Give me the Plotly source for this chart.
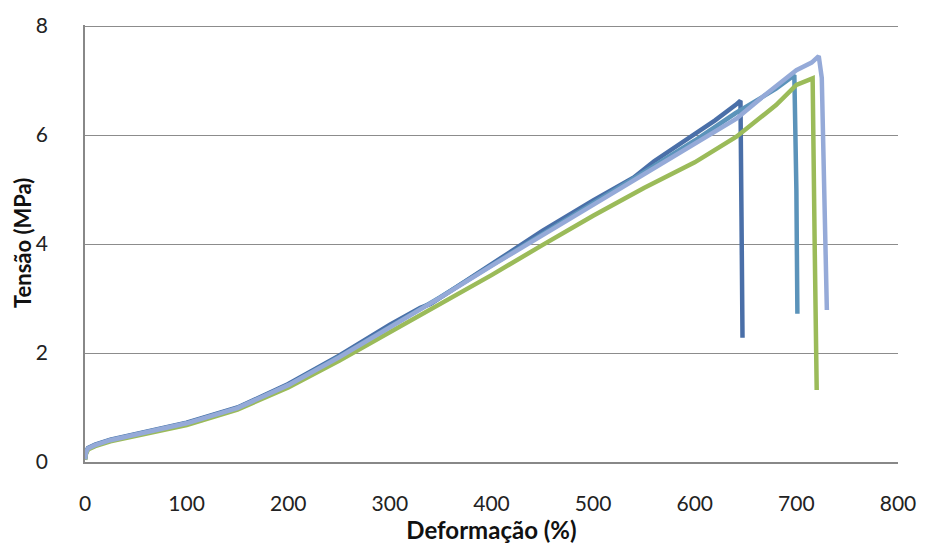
import plotly.graph_objects as go

# Series (strain %, stress MPa)
s1_x = [0, 1, 3, 10, 25, 50, 100, 150, 200, 250, 300, 330, 340, 350, 400, 450, 500, 540, 560, 600, 620, 640, 645, 646, 647]
s1_y = [0.05, 0.18, 0.26, 0.32, 0.41, 0.51, 0.72, 1.00, 1.43, 1.95, 2.52, 2.83, 2.90, 3.02, 3.63, 4.24, 4.80, 5.22, 5.52, 6.02, 6.27, 6.55, 6.63, 4.5, 2.28]

s2_x = [0, 1, 3, 10, 25, 50, 100, 150, 200, 250, 300, 350, 400, 450, 500, 550, 600, 640, 680, 698, 700, 701]
s2_y = [0.05, 0.17, 0.25, 0.31, 0.40, 0.50, 0.71, 0.99, 1.41, 1.93, 2.47, 3.03, 3.61, 4.19, 4.75, 5.32, 5.90, 6.40, 6.85, 7.10, 5.0, 2.72]

s3_x = [0, 1, 3, 10, 25, 50, 100, 150, 200, 250, 300, 350, 400, 450, 500, 550, 600, 641, 670, 700, 715, 722, 725, 727, 729, 730]
s3_y = [0.05, 0.17, 0.25, 0.31, 0.40, 0.50, 0.71, 0.99, 1.41, 1.92, 2.46, 3.02, 3.60, 4.17, 4.72, 5.28, 5.85, 6.30, 6.75, 7.19, 7.33, 7.45, 7.05, 5.6, 3.6, 2.79]

s4_x = [0, 1, 3, 10, 25, 50, 100, 150, 200, 250, 300, 350, 400, 450, 500, 550, 600, 641, 680, 700, 716, 718, 720]
s4_y = [0.04, 0.15, 0.23, 0.29, 0.38, 0.48, 0.68, 0.96, 1.37, 1.86, 2.38, 2.90, 3.43, 3.98, 4.52, 5.03, 5.50, 5.97, 6.55, 6.92, 7.04, 4.0, 1.32]

x_ticks = [0, 100, 200, 300, 400, 500, 600, 700, 800]
y_ticks = [0, 2, 4, 6, 8]

series = [
    (s1_x, s1_y, "#4A6FA8"),
    (s2_x, s2_y, "#5B93BA"),
    (s4_x, s4_y, "#9BBB59"),
    (s3_x, s3_y, "#95AAD8"),
]

fig = go.Figure()
for xs, ys, col in series:
    fig.add_trace(go.Scatter(x=xs, y=ys, mode="lines",
                             line=dict(color=col, width=4.5),
                             showlegend=False))

fig.update_layout(
    width=928, height=554,
    margin=dict(l=85, r=23, t=25, b=92),
    paper_bgcolor="white", plot_bgcolor="white",
    font=dict(family="Lato, Carlito, Liberation Sans, sans-serif", color="#222222"),
)
fig.add_annotation(
    text="<b>Tensão (MPa)</b>", textangle=-90,
    xref="paper", yref="paper", x=(22 - 85) / 820, y=0.5,
    xanchor="center", yanchor="middle", showarrow=False,
    font=dict(size=22, color="#111111"),
)
fig.update_xaxes(
    range=[0, 800], tickvals=x_ticks, ticktext=[str(v) for v in x_ticks],
    showgrid=False, zeroline=False,
    showline=True, linecolor="#888888", linewidth=1.5,
    ticks="", ticklabelstandoff=22,
    tickfont=dict(size=21, color="#222222"),
    title=dict(text="<b>Deformação (%)</b>", font=dict(size=24, color="#111111"), standoff=4),
)
fig.update_yaxes(
    range=[0, 8.02], tickvals=y_ticks, ticktext=[str(v) for v in y_ticks],
    showgrid=True, gridcolor="#8c8c8c", gridwidth=1.2,
    zeroline=False,
    showline=True, linecolor="#888888", linewidth=1.5,
    ticks="", ticklabelstandoff=31,
    tickfont=dict(size=21, color="#222222"),
)
fig.write_html("out.html")
